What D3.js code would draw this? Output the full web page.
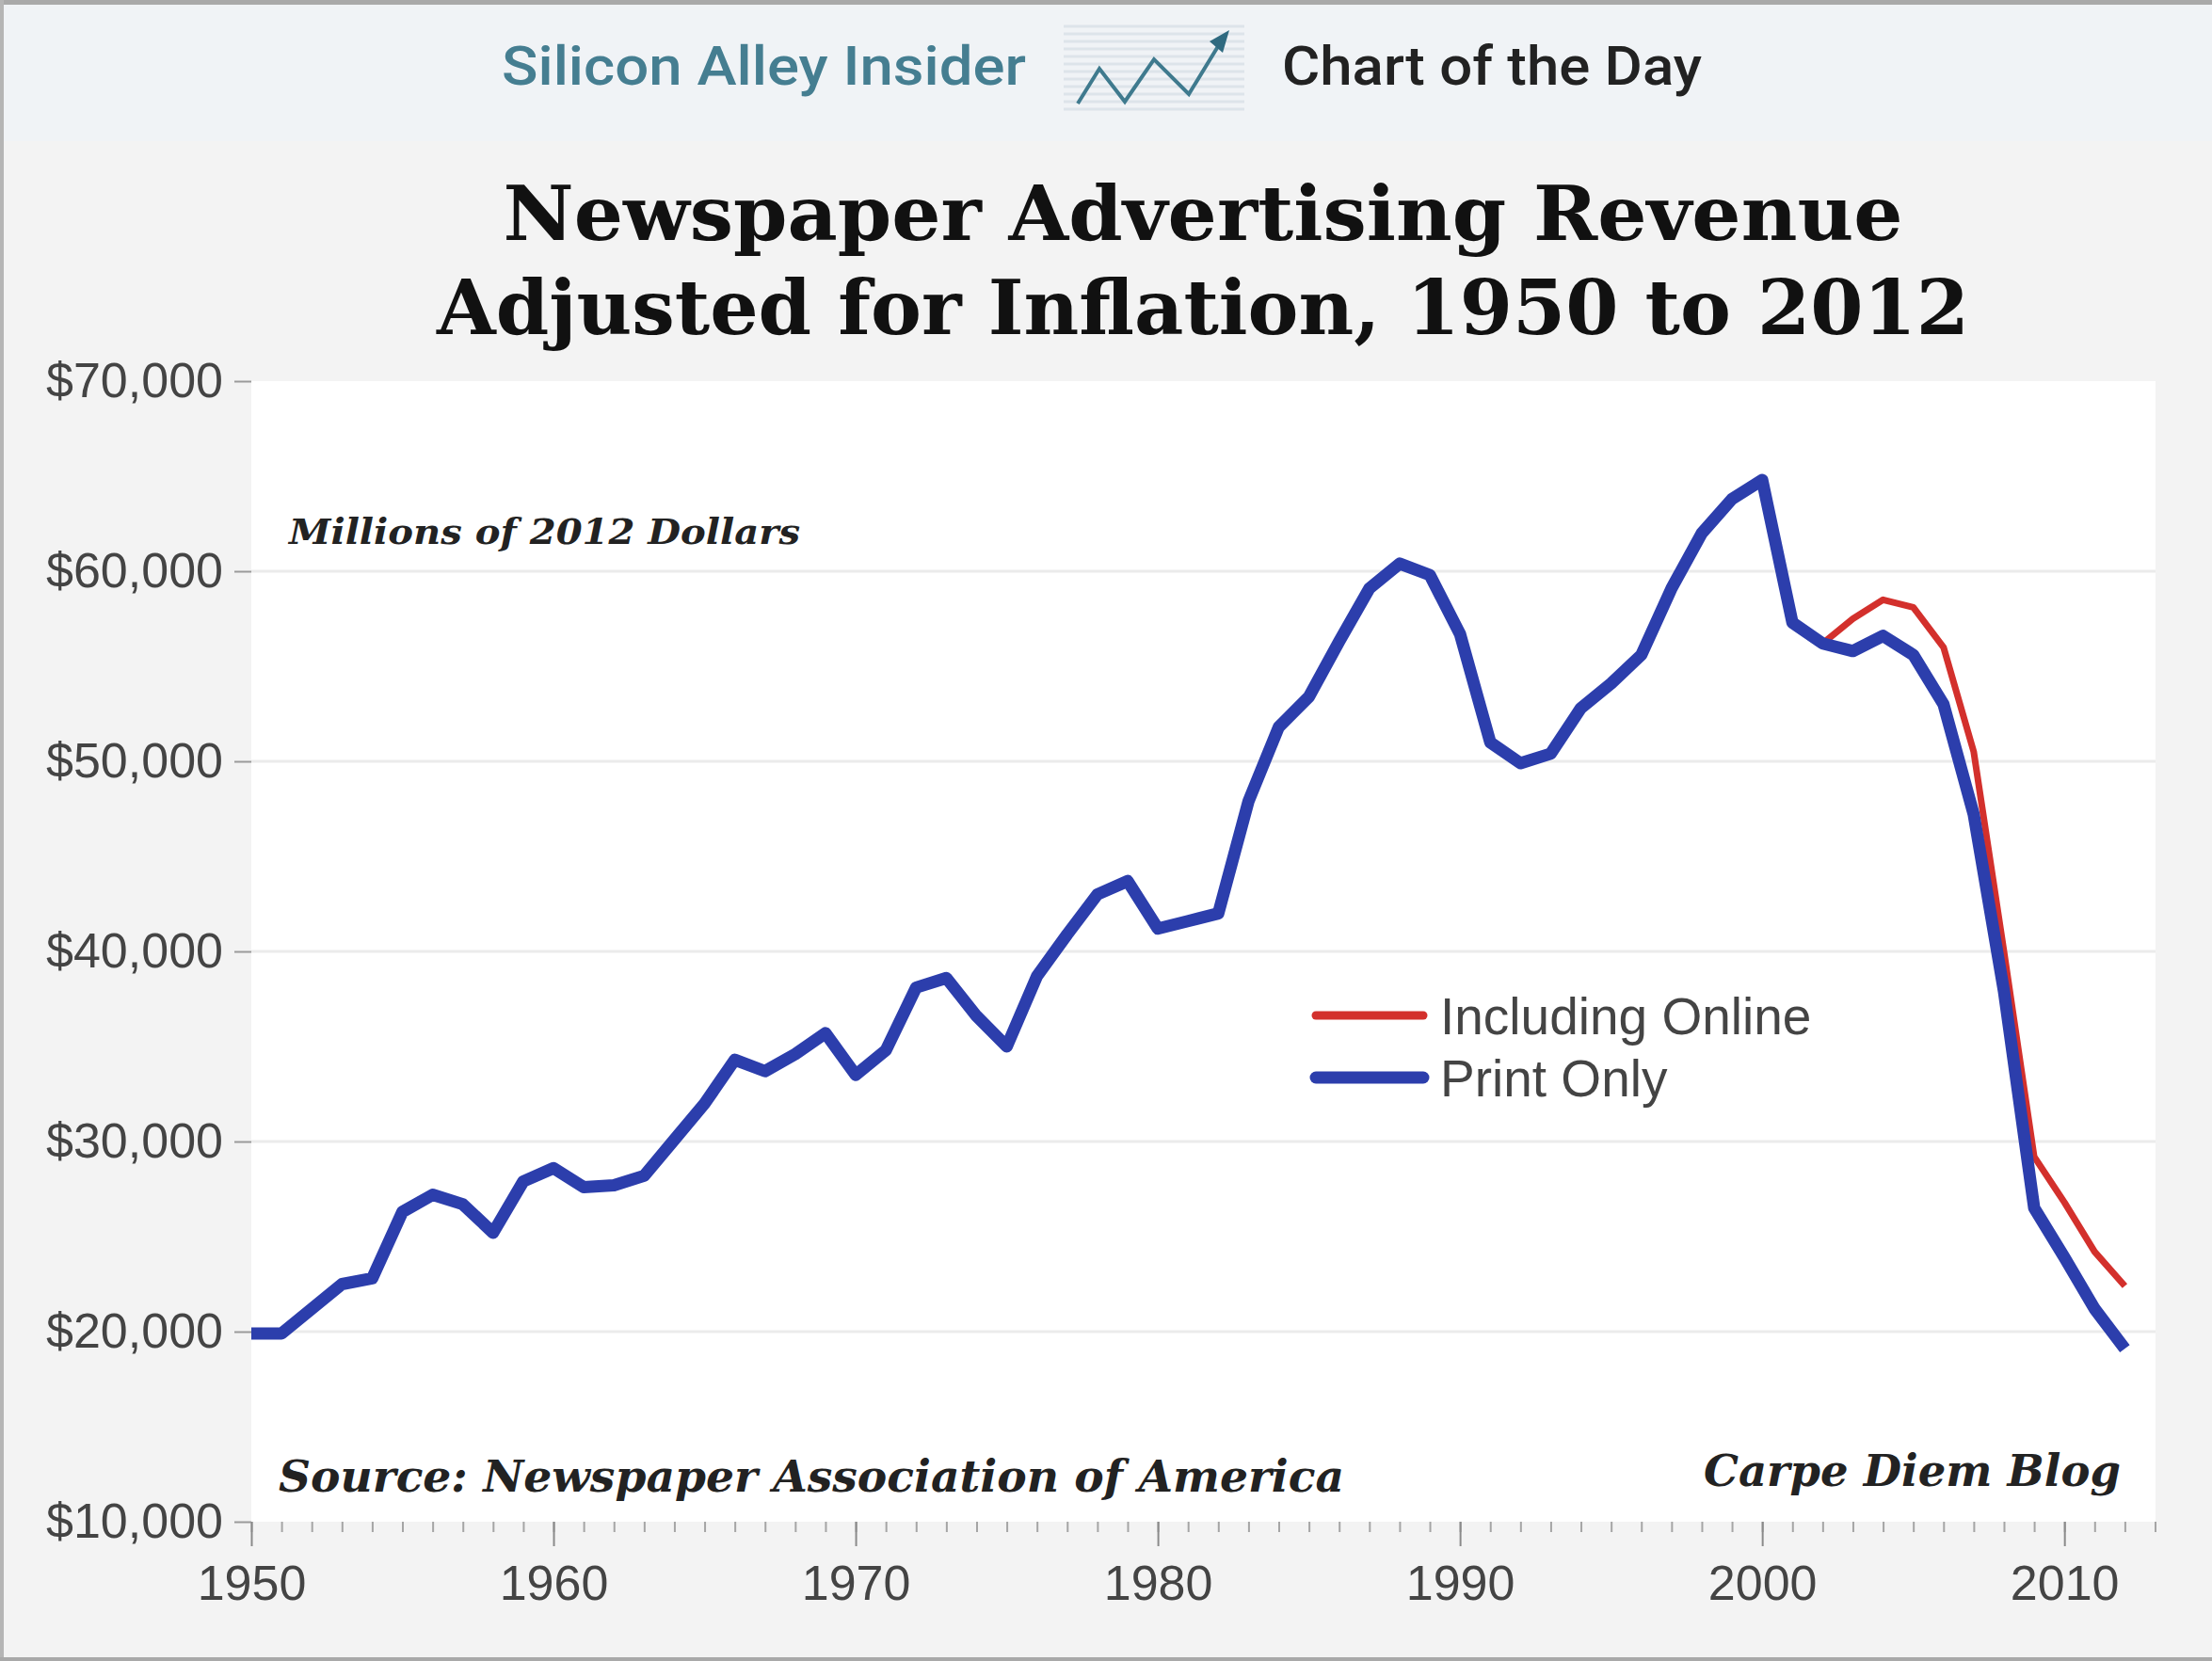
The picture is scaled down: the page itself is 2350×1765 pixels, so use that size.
<!DOCTYPE html>
<html>
<head>
<meta charset="utf-8">
<script src="https://cdn.jsdelivr.net/npm/d3@7"></script>
<style>
  html, body { margin: 0; padding: 0; background: #f3f3f3; }
  svg { display: block; }
</style>
</head>
<body>
<div id="chart"></div>
<script>
// years 1950..2012
const years = d3.range(1950, 2013);

// print only, millions of 2012 dollars
const printOnly = [
  19900, 19900, 21200, 22500, 22800, 26300, 27200, 26700, 25200, 27900,
  28600, 27600, 27700, 28200, 30100, 32000, 34300, 33700, 34600, 35700,
  33500, 34800, 38100, 38600, 36600, 35000, 38700, 40900, 43000, 43700,
  41200, 41600, 42000, 47900, 51800, 53400, 56300, 59100, 60400, 59800,
  56700, 51000, 49900, 50400, 52800, 54100, 55600, 59100, 62000, 63800,
  64800, 57300, 56200, 55800, 56600, 55600, 53000, 47200, 37900, 26500,
  23900, 21200, 19100
];

// including online, from 2002 on (same as print before)
const onlineYears = d3.range(2002, 2013);
const inclOnline = [56200, 57500, 58500, 58100, 56000, 50500, 40000, 29200, 26800, 24200, 22400];

const yTicks = [10000, 20000, 30000, 40000, 50000, 60000, 70000];
const xMajor = [1950, 1960, 1970, 1980, 1990, 2000, 2010];
const xMinor = d3.range(1950, 2014);

const seriesNames = ["Including Online", "Print Only"];
const seriesColors = ["#d3302c", "#2c3eac"];

const W = 2350, H = 1765;
const plot = { left: 267, right: 2290, top: 405, bottom: 1617 };

const svg = d3.select("#chart").append("svg")
  .attr("width", W)
  .attr("height", H);

// background + frame
svg.append("rect").attr("width", W).attr("height", H).attr("fill", "#f3f3f3");
svg.append("rect").attr("width", W).attr("height", 150).attr("fill", "#f0f3f6");
svg.append("rect").attr("width", W).attr("height", 5).attr("fill", "#a9a9a9");
svg.append("rect").attr("width", 4).attr("height", H).attr("fill", "#b5b5b5");
svg.append("rect").attr("y", H - 4).attr("width", W).attr("height", 4).attr("fill", "#a9a9a9");

// header
svg.append("text")
  .attr("x", 533).attr("y", 90)
  .attr("font-family", "Roboto, 'Open Sans', sans-serif")
  .attr("font-weight", 500)
  .attr("font-size", 58)
  .attr("fill", "#457e91")
  .attr("textLength", 557)
  .attr("lengthAdjust", "spacingAndGlyphs")
  .text("Silicon Alley Insider");

svg.append("text")
  .attr("x", 1362).attr("y", 90)
  .attr("font-family", "Roboto, 'Open Sans', sans-serif")
  .attr("font-weight", 500)
  .attr("font-size", 58)
  .attr("fill", "#222")
  .attr("textLength", 446)
  .attr("lengthAdjust", "spacingAndGlyphs")
  .text("Chart of the Day");

// little logo
const logo = svg.append("g");
d3.range(28, 122, 8).forEach(yy => {
  logo.append("line")
    .attr("x1", 1130).attr("x2", 1322)
    .attr("y1", yy).attr("y2", yy)
    .attr("stroke", "#dde4ea").attr("stroke-width", 3);
});
const logoPts = [[1145, 110], [1168, 73], [1195, 108], [1226, 63], [1263, 100], [1296, 46]];
logo.append("path")
  .attr("d", d3.line()(logoPts))
  .attr("fill", "none")
  .attr("stroke", "#3f7a8e")
  .attr("stroke-width", 4);
logo.append("path")
  .attr("d", "M1306,32 L1285,44 L1299,56 Z")
  .attr("fill", "#2f6a80");

// title
const titleLines = ["Newspaper Advertising Revenue", "Adjusted for Inflation, 1950 to 2012"];
const titleWidths = [1487, 1628];
titleLines.forEach((t, i) => {
  svg.append("text")
    .attr("x", 1278).attr("y", 255 + i * 100)
    .attr("text-anchor", "middle")
    .attr("font-family", "'DejaVu Serif', 'Liberation Serif', serif")
    .attr("font-weight", "bold")
    .attr("font-size", 80)
    .attr("fill", "#111")
    .attr("textLength", titleWidths[i])
    .attr("lengthAdjust", "spacingAndGlyphs")
    .text(t);
});

// scales
const x = d3.scaleLinear().domain([1950, 2013]).range([plot.left, 2289.5]);
const y = d3.scaleLinear().domain([10000, 70000]).range([plot.bottom, plot.top]);

// plot area
svg.append("rect")
  .attr("x", plot.left).attr("y", plot.top)
  .attr("width", plot.right - plot.left)
  .attr("height", plot.bottom - plot.top)
  .attr("fill", "#ffffff");

// grid
svg.append("g")
  .selectAll("line")
  .data(yTicks.filter(d => d > 10000 && d < 70000))
  .join("line")
  .attr("x1", plot.left).attr("x2", plot.right)
  .attr("y1", d => y(d)).attr("y2", d => y(d))
  .attr("stroke", "#ebebeb")
  .attr("stroke-width", 3);

// y axis
const yAxis = svg.append("g")
  .attr("transform", `translate(${plot.left},0)`)
  .call(d3.axisLeft(y)
    .tickValues(yTicks)
    .tickFormat(d => "$" + d3.format(",")(d))
    .tickSize(18)
    .tickPadding(12));
yAxis.select(".domain").remove();
yAxis.selectAll(".tick line").attr("stroke", "#9a9a9a").attr("stroke-width", 2);
yAxis.selectAll("text")
  .attr("font-family", "'Liberation Sans', Arial, sans-serif")
  .attr("font-size", 52)
  .attr("fill", "#444");

// x axis: minor ticks every year, major every ten
const xMinorAxis = svg.append("g")
  .attr("transform", `translate(0,${plot.bottom})`)
  .call(d3.axisBottom(x).tickValues(xMinor).tickFormat("").tickSize(11));
xMinorAxis.select(".domain").remove();
xMinorAxis.selectAll(".tick line").attr("stroke", "#a5a5a5").attr("stroke-width", 2);

const xAxis = svg.append("g")
  .attr("transform", `translate(0,${plot.bottom})`)
  .call(d3.axisBottom(x).tickValues(xMajor).tickFormat(d3.format("d")).tickSize(26).tickPadding(20));
xAxis.select(".domain").remove();
xAxis.selectAll(".tick line").attr("stroke", "#8a8a8a").attr("stroke-width", 2);
xAxis.selectAll("text")
  .attr("font-family", "'Liberation Sans', Arial, sans-serif")
  .attr("font-size", 52)
  .attr("fill", "#444");

// lines
const line = d3.line()
  .x(d => x(d[0]))
  .y(d => y(d[1]));

svg.append("path")
  .datum(d3.zip(onlineYears, inclOnline))
  .attr("d", line)
  .attr("fill", "none")
  .attr("stroke", seriesColors[0])
  .attr("stroke-width", 7)
  .attr("stroke-linejoin", "round");

svg.append("path")
  .datum(d3.zip(years, printOnly))
  .attr("d", line)
  .attr("fill", "none")
  .attr("stroke", seriesColors[1])
  .attr("stroke-width", 13)
  .attr("stroke-linejoin", "round");

// legend
const legend = svg.append("g").attr("transform", "translate(1398,1079)");
seriesNames.forEach((name, i) => {
  legend.append("line")
    .attr("x1", 0).attr("x2", 114)
    .attr("y1", i * 66).attr("y2", i * 66)
    .attr("stroke", seriesColors[i])
    .attr("stroke-width", i === 0 ? 9 : 13)
    .attr("stroke-linecap", "round");
  legend.append("text")
    .attr("x", 132).attr("y", i * 66 + 20)
    .attr("font-family", "'Liberation Sans', Arial, sans-serif")
    .attr("font-size", 55)
    .attr("fill", "#444")
    .text(name);
});

// notes
function note(txt, xx, yy, size, len) {
  svg.append("text")
    .attr("x", xx).attr("y", yy)
    .attr("font-family", "'DejaVu Serif', 'Liberation Serif', serif")
    .attr("font-weight", "bold")
    .attr("font-style", "italic")
    .attr("font-size", size)
    .attr("fill", "#222")
    .attr("textLength", len)
    .attr("lengthAdjust", "spacingAndGlyphs")
    .text(txt);
}
note("Millions of 2012 Dollars", 307, 578, 38, 543);
note("Source: Newspaper Association of America", 296, 1585, 46, 1132);
note("Carpe Diem Blog", 1810, 1579, 46, 443);
</script>
</body>
</html>
